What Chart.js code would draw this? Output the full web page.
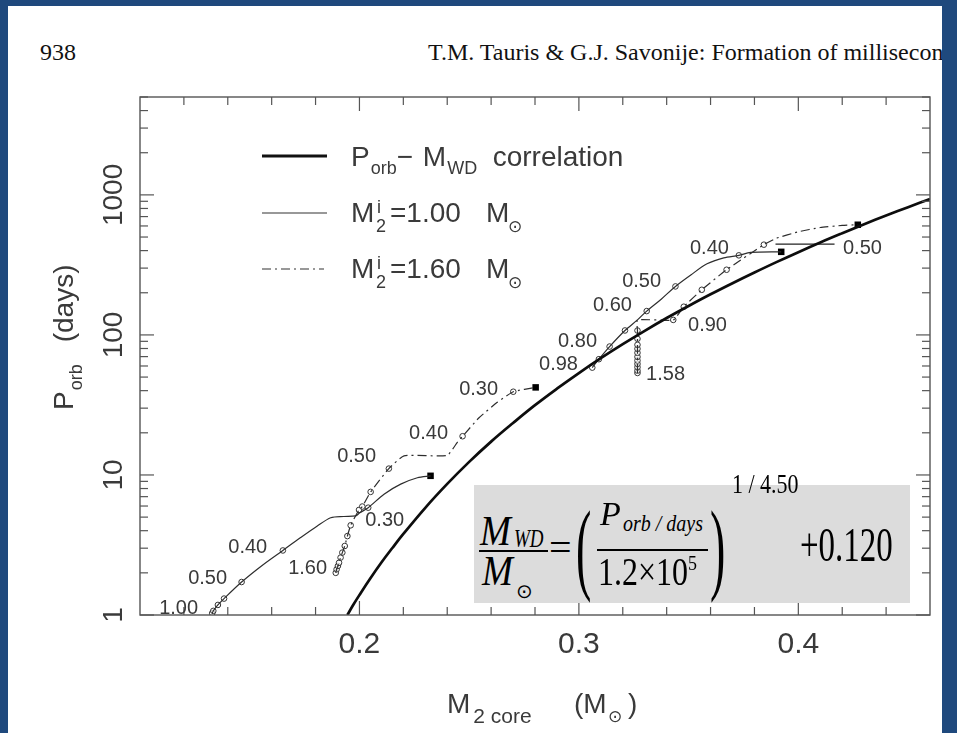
<!DOCTYPE html>
<html>
<head>
<meta charset="utf-8">
<title>Porb - M2 core</title>
<script src="https://cdn.jsdelivr.net/npm/chart.js@4.4.1/dist/chart.umd.min.js"></script>
<style>
  html, body { margin: 0; padding: 0; }
  body { width: 957px; height: 733px; background: #fff; position: relative; overflow: hidden; }
  #chart { position: absolute; left: 0; top: 0; }
  #eq { position: absolute; left: 0; top: 0; }
  .head { position: absolute; top: 40px; font-family: "Liberation Serif", serif; font-size: 24px; line-height: 24px; color: #111; white-space: nowrap; }
  .edge { position: absolute; background: #1f497d; }
</style>
</head>
<body>
<div class="head" style="left:40px">938</div>
<div class="head" style="left:428px">T.M. Tauris &amp; G.J. Savonije: Formation of millisecond pulsars</div>
<canvas id="chart" width="957" height="733"></canvas>
<svg id="eq" width="957" height="733" font-family="Liberation Serif, serif" fill="#000">
  <rect x="474" y="485" width="436" height="118" fill="#dcdcdc"/>
  <text transform="translate(480,545) scale(1,1.13)" font-size="37" font-style="italic">M</text>
  <text transform="translate(514,547) scale(1,1.3)" font-size="19" font-style="italic">WD</text>
  <rect x="479" y="550" width="69" height="2"/>
  <text transform="translate(482,585) scale(1,1.13)" font-size="37" font-style="italic">M</text>
  <text x="516" y="598" font-size="20" font-family="DejaVu Sans">⊙</text>
  <text x="549" y="561" font-size="40">=</text>
  <text transform="translate(576,581) scale(1,2.2)" font-size="46">(</text>
  <text transform="translate(600,525)" font-size="34" font-style="italic">P</text>
  <text transform="translate(623,531) scale(1,1.2)" font-size="20" font-style="italic">orb / days</text>
  <rect x="597" y="549" width="111" height="2"/>
  <text transform="translate(598,585) scale(1,1.26)" font-size="32">1.2×10</text>
  <text transform="translate(688,570) scale(1,1.2)" font-size="18">5</text>
  <text transform="translate(710,581) scale(1,2.2)" font-size="46">)</text>
  <text transform="translate(732,493) scale(1,1.25)" font-size="22">1 / 4.50</text>
  <text transform="translate(800,561) scale(1,1.45)" font-size="33">+0.120</text>
</svg>
<div class="edge" style="left:0;top:0;width:8px;height:733px"></div>
<div class="edge" style="left:0;top:0;width:957px;height:6px"></div>
<div class="edge" style="left:942px;top:0;width:15px;height:733px"></div>
<script>
// core mass of the donor (Msun) against orbital period (days)

// P_orb - M_WD correlation
const corrMass = [0.1945, 0.197, 0.20, 0.205, 0.21, 0.215, 0.22, 0.23, 0.24, 0.25, 0.26, 0.27, 0.28, 0.29, 0.30,
  0.31, 0.32, 0.33, 0.34, 0.35, 0.36, 0.37, 0.38, 0.39, 0.40, 0.41, 0.42, 0.43, 0.44, 0.45, 0.46];
const corrPorb = [1.00, 1.17, 1.39, 1.83, 2.37, 3.01, 3.79, 5.83, 8.63, 12.4, 17.3, 23.5, 31.5, 41.3, 53.4,
  68.2, 85.9, 107, 132, 161, 195, 234, 279, 331, 390, 457, 532, 617, 712, 817, 935];

// M2i = 1.00, short initial period
const s1Mass = [0.1329, 0.1334, 0.1355, 0.1383, 0.1463, 0.1555, 0.1651, 0.1732, 0.1808, 0.1869, 0.1929, 0.1983, 0.2000, 0.2040, 0.2112, 0.2188, 0.2264, 0.2324];
const s1Porb = [1.03, 1.07, 1.18, 1.31, 1.72, 2.25, 2.89, 3.57, 4.32, 4.95, 5.05, 5.10, 5.35, 5.84, 7.29, 8.60, 9.55, 9.86];
const s1MarkMass = [0.1329, 0.1334, 0.1355, 0.1383, 0.1463, 0.1651, 0.2040];
const s1MarkPorb = [1.03, 1.07, 1.18, 1.31, 1.72, 2.89, 5.84];

// M2i = 1.60, short initial period
const d1Mass = [0.1892, 0.1896, 0.1902, 0.1907, 0.1914, 0.1922, 0.1933, 0.1945, 0.1960, 0.1998, 0.2013, 0.2051, 0.2134, 0.2203, 0.2400, 0.2446, 0.2470, 0.2545, 0.2628, 0.2701, 0.2803];
const d1Porb = [2.00, 2.12, 2.24, 2.36, 2.57, 2.79, 3.11, 3.66, 4.37, 5.63, 5.95, 7.57, 11.1, 13.7, 13.8, 17.1, 18.9, 25.6, 33.0, 39.3, 42.2];
const d1MarkMass = [0.1892, 0.1896, 0.1902, 0.1907, 0.1914, 0.1922, 0.1933, 0.1945, 0.1960, 0.1998, 0.2013, 0.2051, 0.2134, 0.2470, 0.2701];
const d1MarkPorb = [2.00, 2.12, 2.24, 2.36, 2.57, 2.79, 3.11, 3.66, 4.37, 5.63, 5.95, 7.57, 11.1, 18.9, 39.3];

// M2i = 1.00, long initial period
const s2Mass = [0.3061, 0.3091, 0.3140, 0.3210, 0.3267, 0.3309, 0.3375, 0.3440, 0.3510, 0.3584, 0.3660, 0.3729, 0.3783, 0.3922];
const s2Porb = [58.4, 67.1, 82.6, 107.6, 128, 148, 180, 222, 268, 322, 355, 370, 388, 392];
const s2MarkMass = [0.3061, 0.3091, 0.3140, 0.3210, 0.3309, 0.3440, 0.3729];
const s2MarkPorb = [58.4, 67.1, 82.6, 107.6, 148, 222, 370];

// M2i = 1.60, long initial period
const d2Mass = [0.3267, 0.3267, 0.3267, 0.3267, 0.3267, 0.3267, 0.3267, 0.3267, 0.3267, 0.3267, 0.3267, 0.3267,
  0.3430, 0.3478, 0.3560, 0.3673, 0.3843, 0.3900, 0.4000, 0.4100, 0.4200, 0.4271];
const d2Porb = [53.5, 55.6, 58.8, 62.1, 65.6, 69.7, 74.5, 79.6, 85.0, 93.8, 107.5, 128,
  128, 159, 210, 292, 441, 490, 545, 585, 605, 612];
const d2MarkMass = [0.3267, 0.3267, 0.3267, 0.3267, 0.3267, 0.3267, 0.3267, 0.3267, 0.3267, 0.3267, 0.3267, 0.3430, 0.3478, 0.3560, 0.3673, 0.3843];
const d2MarkPorb = [53.5, 55.6, 58.8, 62.1, 65.6, 69.7, 74.5, 79.6, 85.0, 93.8, 107.5, 128, 159, 210, 292, 441];

// end of mass transfer (final white dwarf)
const endMass = [0.2324, 0.2803, 0.3922, 0.4271];
const endPorb = [9.86, 42.2, 392, 612];

// leader line for the last label
const leaderMass = [0.3896, 0.4165];
const leaderPorb = [445, 445];

// donor mass labels along the tracks
const noteText = ['1.00', '0.50', '0.40', '1.60', '0.30', '0.50', '0.40', '0.30', '0.98', '0.80', '0.60', '0.50', '1.58', '0.90', '0.40', '0.50'];
const noteMass = [0.1176, 0.1308, 0.1491, 0.1764, 0.2115, 0.1987, 0.2315, 0.2543, 0.2907, 0.2994, 0.3153, 0.3286, 0.3395, 0.3586, 0.3595, 0.4292];
const notePorb = [1.11, 1.83, 3.04, 2.15, 4.75, 13.6, 19.9, 41.1, 61.1, 89.3, 162, 240, 52.2, 117, 416, 416];

const xMajor = [0.2, 0.3, 0.4];
const xTickLabels = ['0.2', '0.3', '0.4'];
const yMajor = [1, 10, 100, 1000];
const yTickLabels = ['1', '10', '100', '1000'];

const SANS = '"Liberation Sans", Arial, sans-serif';
const INK = '#3a3a3a';
const DASHDOT = [9, 4, 2, 4];

const pts = (ms, ps) => ms.map((m, i) => ({ x: m, y: ps[i] }));

function track(data, opts) {
  return Object.assign({
    data: data, showLine: true, pointRadius: 0, borderColor: '#2e2e2e',
    borderWidth: 1.2, tension: 0.3, fill: false
  }, opts);
}

function marks(data) {
  return {
    data: data, showLine: false, pointStyle: 'circle', pointRadius: 2.8,
    pointBorderWidth: 1, pointBorderColor: '#333', pointBackgroundColor: 'rgba(255,255,255,0.7)'
  };
}

function line(ctx, x1, y1, x2, y2) {
  ctx.beginPath(); ctx.moveTo(x1, y1); ctx.lineTo(x2, y2); ctx.stroke();
}

// text runs: [text, size, dy, gap] drawn one after another
function runs(ctx, x, y, list) {
  let cx = x;
  for (const [t, size, dy, gap] of list) {
    ctx.font = size + 'px ' + SANS;
    ctx.fillText(t, cx, y + dy);
    cx += ctx.measureText(t).width + (gap || 0);
  }
  return cx;
}

const axesPlugin = {
  id: 'axesPlugin',
  afterDraw(chart) {
    const { ctx, chartArea: a, scales: { x, y } } = chart;
    ctx.save();
    ctx.strokeStyle = '#555';
    ctx.lineWidth = 1.4;
    ctx.strokeRect(a.left, a.top, a.width, a.height);

    // inward ticks on all four sides
    ctx.lineWidth = 1.2;
    for (let k = 6; k <= 22; k++) {
      const v = k * 0.02;
      const px = x.getPixelForValue(v);
      const len = xMajor.some(m => Math.abs(m - v) < 1e-9) ? 14 : 8;
      line(ctx, px, a.bottom, px, a.bottom - len);
      line(ctx, px, a.top, px, a.top + len);
    }
    for (const d of yMajor) {
      for (let k = 1; k <= 9; k++) {
        const v = k * d;
        if (v > y.max) break;
        const py = y.getPixelForValue(v);
        const len = k === 1 ? 14 : 8;
        line(ctx, a.left, py, a.left + len, py);
        line(ctx, a.right, py, a.right - len, py);
      }
    }

    ctx.fillStyle = INK;
    // rotated y tick labels
    ctx.font = '28px ' + SANS;
    ctx.textAlign = 'center';
    ctx.textBaseline = 'alphabetic';
    yMajor.forEach((v, i) => {
      ctx.save();
      ctx.translate(a.left - 18, y.getPixelForValue(v));
      ctx.rotate(-Math.PI / 2);
      ctx.fillText(yTickLabels[i], 0, 0);
      ctx.restore();
    });

    // y title
    ctx.save();
    ctx.translate(73, 410);
    ctx.rotate(-Math.PI / 2);
    ctx.textAlign = 'left';
    runs(ctx, 0, 0, [['P', 28, 0, 1], ['orb', 18, 9, 22], ['(days)', 28, 0]]);
    ctx.restore();

    // x title
    ctx.textAlign = 'left';
    runs(ctx, 447, 713, [['M', 28, 0, 3], ['2 core', 21, 10, 0]]);
    runs(ctx, 574, 713, [['(M', 28, 0]]);
    ctx.font = '17px "DejaVu Sans"';
    ctx.fillText('⊙', 608, 722);
    ctx.font = '28px ' + SANS;
    ctx.fillText(')', 628, 713);

    // legend
    ctx.strokeStyle = '#111';
    ctx.lineWidth = 3;
    line(ctx, 262, 156, 327, 156);
    ctx.strokeStyle = '#333';
    ctx.lineWidth = 1.2;
    line(ctx, 262, 213, 327, 213);
    ctx.setLineDash(DASHDOT);
    line(ctx, 262, 269, 324, 269);
    ctx.setLineDash([]);

    runs(ctx, 351, 166, [['P', 28, 0, 1], ['orb', 18, 8, 0], ['\u2212 ', 28, 0, 2], ['M', 28, 0, 1], ['WD', 18, 8, 0], ['  correlation', 28, 0]]);
    [[222, '1.00'], [278, '1.60']].forEach(([by, mass]) => {
      runs(ctx, 351, by, [['M', 28, 0]]);
      ctx.font = '18px ' + SANS;
      ctx.fillText('i', 377, by - 9);
      ctx.fillText('2', 376, by + 10);
      runs(ctx, 390, by, [['=' + mass, 28, 0]]);
      runs(ctx, 486, by, [['M', 28, 0]]);
      ctx.font = '17px "DejaVu Sans"';
      ctx.fillText('⊙', 508, by + 10);
    });

    // donor mass labels
    ctx.font = '20px ' + SANS;
    ctx.textAlign = 'center';
    ctx.textBaseline = 'middle';
    noteText.forEach((t, i) => {
      ctx.fillText(t, x.getPixelForValue(noteMass[i]), y.getPixelForValue(notePorb[i]));
    });
    ctx.restore();
  }
};

new Chart(document.getElementById('chart'), {
  type: 'scatter',
  data: {
    datasets: [
      track(pts(corrMass, corrPorb), { borderColor: '#0d0d0d', borderWidth: 2.7, tension: 0.4 }),
      track(pts(s1Mass, s1Porb), {}),
      track(pts(d1Mass, d1Porb), { borderDash: DASHDOT, tension: 0.15 }),
      track(pts(s2Mass, s2Porb), {}),
      track(pts(d2Mass, d2Porb), { borderDash: DASHDOT, tension: 0.15 }),
      track(pts(leaderMass, leaderPorb), { borderColor: '#222', tension: 0 }),
      marks(pts(s1MarkMass, s1MarkPorb)),
      marks(pts(d1MarkMass, d1MarkPorb)),
      marks(pts(s2MarkMass, s2MarkPorb)),
      marks(pts(d2MarkMass, d2MarkPorb)),
      {
        data: pts(endMass, endPorb), showLine: false, pointStyle: 'rect', pointRadius: 4.6,
        pointBorderWidth: 0, pointBackgroundColor: '#000'
      }
    ]
  },
  options: {
    responsive: false,
    animation: false,
    events: [],
    layout: { padding: { top: 97, right: 27, left: 0, bottom: 0 } },
    plugins: { legend: { display: false }, tooltip: { enabled: false } },
    scales: {
      x: {
        type: 'linear', min: 0.1, max: 0.46,
        afterFit: s => { s.height = 118; },
        afterBuildTicks: s => { s.ticks = xMajor.map(v => ({ value: v })); },
        grid: { display: false, drawTicks: false },
        border: { display: false },
        ticks: {
          padding: 12, color: INK, font: { family: SANS, size: 30 },
          callback: v => xTickLabels[xMajor.findIndex(m => Math.abs(m - v) < 1e-9)]
        }
      },
      y: {
        type: 'logarithmic', min: 1, max: 5000,
        afterFit: s => { s.width = 140; },
        grid: { display: false, drawTicks: false },
        border: { display: false },
        ticks: { display: false }
      }
    }
  },
  plugins: [axesPlugin]
});
</script>
</body>
</html>
